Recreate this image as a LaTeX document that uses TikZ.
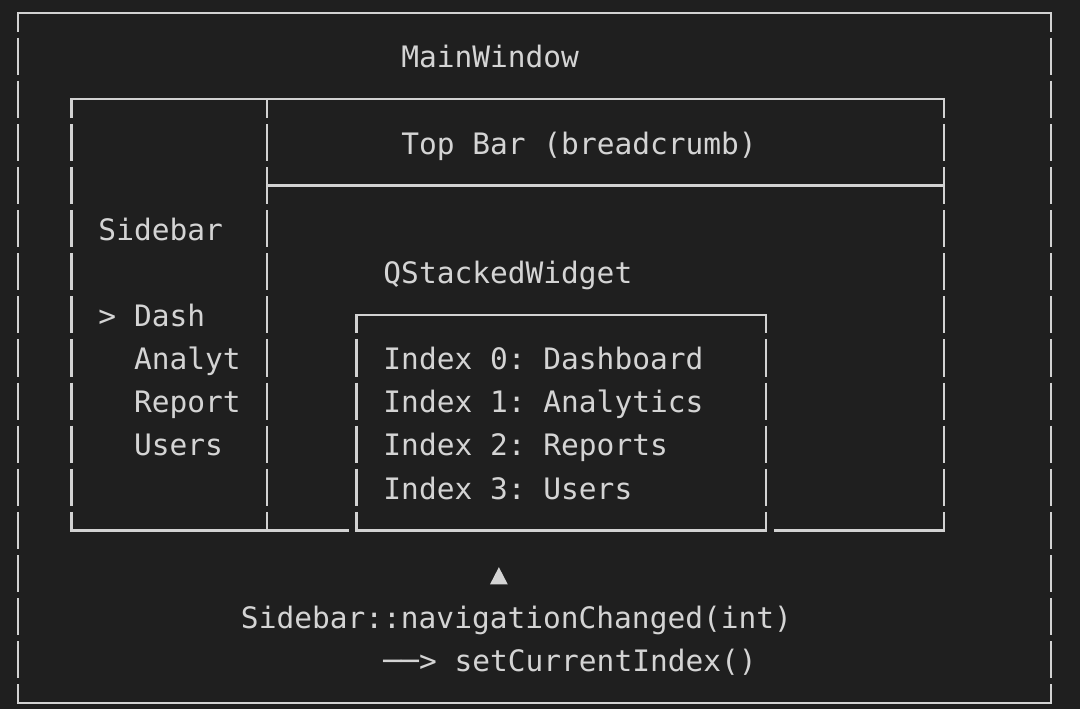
\documentclass[tikz,border=0pt]{standalone}
\usepackage{fontspec}
\setmonofont{DejaVu Sans Mono}
\definecolor{bg}{HTML}{1F1F1F}
\definecolor{fg}{HTML}{D4D4D4}
\definecolor{rule}{HTML}{D2D2D2}

\begin{document}
\begin{tikzpicture}[x=0.3562cm,y=-0.8625cm,
    vedge/.style={draw=rule,line width=1.3pt},
    hedge/.style={draw=rule,line width=1.3pt,line cap=rect},
    txt/.style={anchor=base west,inner sep=0pt,text=fg,
      font=\ttfamily\fontsize{16.8}{20}\selectfont}]
  % background
  \fill[bg] (-1.0107,-0.3014) rectangle (59.629,16.139);
  % vertical bars, one piece per text row
  \foreach \c/\a/\b in {0/0/16,58/0/16,3/2/12,14/2/12,52/2/12,19/7/12,42/7/12}{
    \draw[vedge] (\c,\a) -- (\c,\a+0.43);
    \draw[vedge] (\c,\b-0.43) -- (\c,\b);
    \pgfmathtruncatemacro\first{\a+1}
    \pgfmathtruncatemacro\last{\b-1}
    \foreach \r in {\first,...,\last}
      \draw[vedge] (\c,\r-0.43) -- (\c,\r+0.43);
  }
  % MainWindow
  \draw[hedge] (0,0) -- (58,0);
  \draw[hedge] (0,16) -- (58,16);
  \node[txt] (mainwin) at (21.5,1.27) {MainWindow};
  % Sidebar + Top Bar
  \draw[hedge] (3,2) -- (52,2);
  \draw[hedge] (14,4) -- (52,4);
  \draw[hedge] (3,12) -- (18.5,12);
  \draw[hedge] (42.5,12) -- (52,12);
  \node[txt] (topbar) at (21.5,3.27) {Top Bar (breadcrumb)};
  \node[txt] (sidebar) at (4.5,5.27) {Sidebar};
  \node[txt] (dash) at (4.5,7.27) {> Dash};
  \node[txt] (analyt) at (6.5,8.27) {Analyt};
  \node[txt] (report) at (6.5,9.27) {Report};
  \node[txt] (users) at (6.5,10.27) {Users};
  % QStackedWidget
  \draw[hedge] (19,7) -- (42,7);
  \draw[hedge] (19,12) -- (42,12);
  \node[txt] (stacked) at (20.5,6.27) {QStackedWidget};
  \node[txt] (idx0) at (20.5,8.27) {Index 0: Dashboard};
  \node[txt] (idx1) at (20.5,9.27) {Index 1: Analytics};
  \node[txt] (idx2) at (20.5,10.27) {Index 2: Reports};
  \node[txt] (idx3) at (20.5,11.27) {Index 3: Users};
  % signal
  \fill[fg] (26.5,13.25) -- (27.5,13.25) -- (27,12.85) -- cycle;
  \node[txt] (signal) at (12.5,14.27) {Sidebar::navigationChanged(int)};
  \node[txt] (slot) at (20.5,15.27) {──> setCurrentIndex()};
\end{tikzpicture}
\end{document}
